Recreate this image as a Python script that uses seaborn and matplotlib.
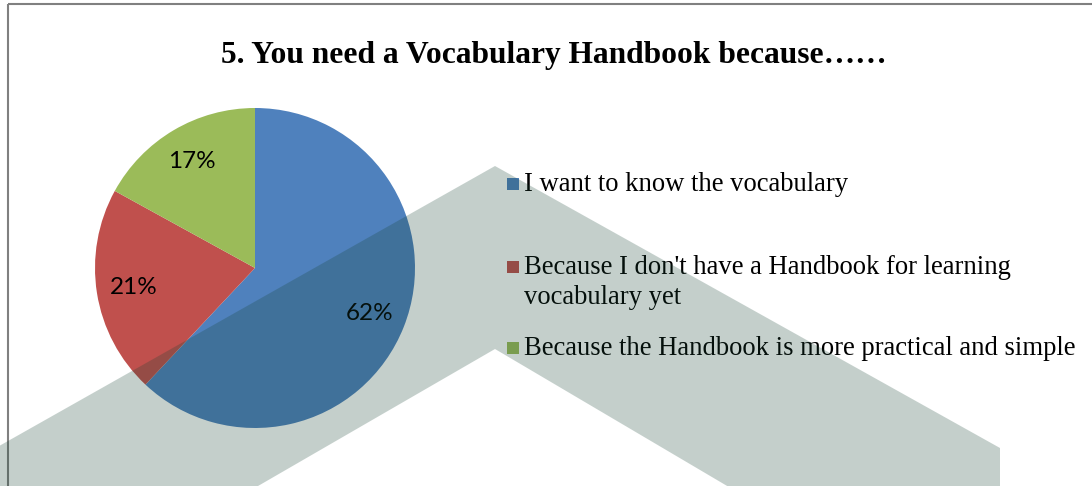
import matplotlib
matplotlib.use("Agg")
import matplotlib.pyplot as plt
from matplotlib.patches import Polygon, Rectangle
import seaborn as sns

# Survey answers and their shares (%)
categories = [
    "I want to know the vocabulary",
    "Because I don't have a Handbook for learning\nvocabulary yet",
    "Because the Handbook is more practical and simple",
]
shares = [62, 21, 17]
colors = ["#4F81BD", "#C0504D", "#9BBB59"]
title = "5. You need a Vocabulary Handbook because……"

sns.set_theme(style="white")
plt.rcParams["font.family"] = ["Lato", "DejaVu Sans"]
serif = ["Liberation Serif", "DejaVu Serif"]

W, H = 1092, 486
fig = plt.figure(figsize=(W / 100, H / 100), dpi=100)
fig.patch.set_facecolor("white")
palette = sns.color_palette(colors)

# Pie: centre (255, 268) px, radius 160 px
cx, cy, r = 255, 268, 160
pie_ax = fig.add_axes([(cx - r) / W, 1 - (cy + r) / H, 2 * r / W, 2 * r / H])
wedges, texts, autotexts = pie_ax.pie(
    shares, colors=palette, startangle=90, counterclock=False,
    autopct="%1.0f%%", pctdistance=0.77, radius=1,
    wedgeprops=dict(linewidth=0),
    textprops=dict(fontsize=17.5, color="black"),
)
pie_ax.set_xlim(-1, 1)
pie_ax.set_ylim(-1, 1)
pie_ax.set_aspect("equal")

# Overlay in pixel coordinates for frame, legend and watermark
ov = fig.add_axes([0, 0, 1, 1], zorder=3)
ov.set_xlim(0, W)
ov.set_ylim(H, 0)
ov.axis("off")
ov.patch.set_alpha(0)

# chart frame
ov.plot([8, 8], [H, 4.5], color="#808080", lw=1.5, solid_capstyle="butt")
ov.plot([8, W], [4.5, 4.5], color="#808080", lw=1.5, solid_capstyle="butt")

# legend
baselines = [191, 274, 355]
for lab, col, base in zip(categories, palette, baselines):
    ov.add_patch(Rectangle((507, base - 13), 12, 12, facecolor=col,
                           edgecolor="none", zorder=5))
    for j, line in enumerate(lab.split("\n")):
        ov.text(524, base + j * 30, line, fontsize=19.2, family=serif,
                color="black", va="baseline", ha="left", zorder=5)

# translucent chevron watermark on top
chevron = [(-100, 502), (495, 166), (1000, 448), (1000, 647),
           (495, 349), (-100, 693)]
ov.add_patch(Polygon(chevron, closed=True,
                     facecolor=(23 / 255, 67 / 255, 51 / 255),
                     alpha=0.25, edgecolor="none", zorder=10))

fig.text(554 / W, 1 - 63 / H, title, ha="center", va="baseline",
         fontsize=22.7, fontweight="bold", family=serif, color="black")

fig.savefig("out.png", dpi=100, facecolor="white")
